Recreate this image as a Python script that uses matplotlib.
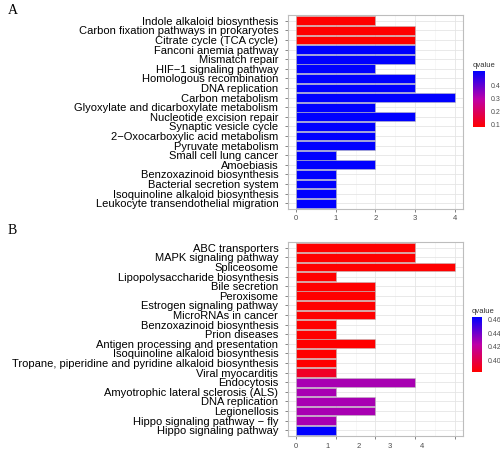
import numpy as np
import matplotlib
matplotlib.use("Agg")
import matplotlib.pyplot as plt
from matplotlib.colors import LinearSegmentedColormap, Normalize
from matplotlib.cm import ScalarMappable

plt.rcParams['font.family'] = ['Liberation Sans', 'DejaVu Sans']

# ---- Panel A data ----
a_terms = [
    "Indole alkaloid biosynthesis",
    "Carbon fixation pathways in prokaryotes",
    "Citrate cycle (TCA cycle)",
    "Fanconi anemia pathway",
    "Mismatch repair",
    "HIF\u22121 signaling pathway",
    "Homologous recombination",
    "DNA replication",
    "Carbon metabolism",
    "Glyoxylate and dicarboxylate metabolism",
    "Nucleotide excision repair",
    "Synaptic vesicle cycle",
    "2\u2212Oxocarboxylic acid metabolism",
    "Pyruvate metabolism",
    "Small cell lung cancer",
    "Amoebiasis",
    "Benzoxazinoid biosynthesis",
    "Bacterial secretion system",
    "Isoquinoline alkaloid biosynthesis",
    "Leukocyte transendothelial migration",
]
a_counts = [2, 3, 3, 3, 3, 2, 3, 3, 4, 2, 3, 2, 2, 2, 1, 2, 1, 1, 1, 1]
a_q = [0.077, 0.077, 0.077] + [0.51] * 17
a_xticks = [0, 1, 2, 3, 4]
a_cbar_ticks = [0.1, 0.2, 0.3, 0.4]

# ---- Panel B data ----
b_terms = [
    "ABC transporters",
    "MAPK signaling pathway",
    "Spliceosome",
    "Lipopolysaccharide biosynthesis",
    "Bile secretion",
    "Peroxisome",
    "Estrogen signaling pathway",
    "MicroRNAs in cancer",
    "Benzoxazinoid biosynthesis",
    "Prion diseases",
    "Antigen processing and presentation",
    "Isoquinoline alkaloid biosynthesis",
    "Tropane, piperidine and pyridine alkaloid biosynthesis",
    "Viral myocarditis",
    "Endocytosis",
    "Amyotrophic lateral sclerosis (ALS)",
    "DNA replication",
    "Legionellosis",
    "Hippo signaling pathway \u2212 fly",
    "Hippo signaling pathway",
]
b_counts = [3, 3, 4, 1, 2, 2, 2, 2, 1, 1, 2, 1, 1, 1, 3, 1, 2, 2, 1, 1]
b_q = [0.384] * 13 + [0.393, 0.428, 0.428, 0.428, 0.428, 0.428, 0.463]
b_xticks = [0, 1, 2, 3, 4]
b_xticklabels = ["0", "1", "2", "3", "4"]
b_label_scale = 0.79  # labels in the figure sit off their tick marks
b_cbar_ticks = [0.40, 0.42, 0.44, 0.46]

cmap = LinearSegmentedColormap.from_list("rb", ["#FF0000", "#BE00A8", "#0000FF"])

fig = plt.figure(figsize=(5.0, 4.49), dpi=100)

def panel(rect, terms, counts, q, qmin, qmax, cbar_rect, cbar_ticks, cbar_fmt,
          label_pos=None, labels=None):
    ax = fig.add_axes(rect)
    n = len(terms)
    norm = Normalize(qmin, qmax)
    y = np.arange(n)[::-1]
    ax.set_axisbelow(True)
    ax.barh(y, counts, height=0.9, color=cmap(norm(np.array(q))),
            edgecolor="#BDBDBD", linewidth=0.4, zorder=3)
    ax.set_yticks(y)
    ax.set_yticklabels(terms, fontsize=8.0, color="black")
    ax.set_ylim(-0.6, n - 0.4)
    ax.set_xlim(-0.2, 4.2)
    ax.set_xticks([0, 1, 2, 3, 4])
    ax.set_xticks([0.5, 1.5, 2.5, 3.5], minor=True)
    ax.grid(True, which="major", color="#E5E5E5", linewidth=0.6)
    ax.grid(True, which="minor", axis="x", color="#F2F2F2", linewidth=0.4)
    ax.tick_params(axis="y", length=2, width=0.5, pad=5, color="#555555")
    ax.tick_params(axis="x", which="major", length=2, width=0.5, pad=2,
                   labelsize=5.5, labelcolor="#4D4D4D", color="#555555")
    ax.tick_params(axis="x", which="minor", length=0)
    if labels is not None:
        ax.set_xticklabels([])
        for p, t in zip(label_pos, labels):
            ax.text(p, -0.038, t, transform=ax.get_xaxis_transform(),
                    ha="center", va="top", fontsize=5.5, color="#4D4D4D")
    for s in ax.spines.values():
        s.set_color("#BDBDBD")
        s.set_linewidth(0.8)
    cax = fig.add_axes(cbar_rect)
    cb = fig.colorbar(ScalarMappable(norm=norm, cmap=cmap), cax=cax)
    cb.outline.set_visible(False)
    cb.set_ticks(cbar_ticks)
    cb.set_ticklabels([cbar_fmt.format(t) for t in cbar_ticks])
    cax.tick_params(length=2, width=0.5, color="white", labelsize=5,
                    labelcolor="#4D4D4D", pad=2)
    cax.set_title("qvalue", fontsize=5.5, loc="left", pad=3, color="#333333")
    return ax

W, H = 500.0, 449.0
def r(l, t, rt, b):
    return [l / W, 1 - b / H, (rt - l) / W, (b - t) / H]

panel(r(288, 15, 463, 209), a_terms, a_counts, a_q, 0.077, 0.51,
      r(473, 71, 485, 127), a_cbar_ticks, "{:.1f}")
panel(r(288, 242, 463, 436), b_terms, b_counts, b_q, 0.384, 0.463,
      r(472, 317, 482, 372), b_cbar_ticks, "{:.2f}",
      label_pos=[v * b_label_scale for v in b_xticks], labels=b_xticklabels)

fig.text(8 / W, 1 - 10 / H, "A", family="Liberation Serif", fontsize=10,
         ha="left", va="center")
fig.text(8 / W, 1 - 230 / H, "B", family="Liberation Serif", fontsize=10,
         ha="left", va="center")

fig.savefig("out.png", dpi=100)
